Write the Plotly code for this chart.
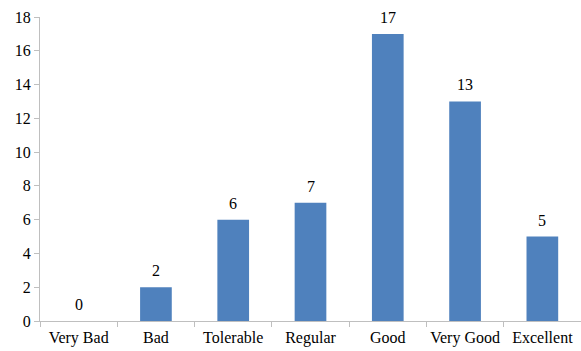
import plotly.graph_objects as go

categories = ["Very Bad", "Bad", "Tolerable", "Regular", "Good", "Very Good", "Excellent"]
values = [0, 2, 6, 7, 17, 13, 5]
y_ticks = [0, 2, 4, 6, 8, 10, 12, 14, 16, 18]

FONT = "Liberation Serif"

fig = go.Figure(go.Bar(
    x=categories, y=values,
    marker=dict(color="#4F81BD", line=dict(width=0)),
    cliponaxis=False,
))

for c, v in zip(categories, values):
    fig.add_annotation(
        x=c, y=v, text=str(v), showarrow=False,
        yanchor="bottom", yshift=6,
        font=dict(family=FONT, size=16, color="black"),
    )

fig.update_layout(
    width=581, height=351,
    margin=dict(l=40, r=0, t=17, b=30, autoexpand=False),
    plot_bgcolor="white", paper_bgcolor="white",
    bargap=0.59,
    showlegend=False,
    font=dict(family=FONT, size=16, color="black"),
)
fig.update_xaxes(
    showline=True, linecolor="#BFBFBF", linewidth=1,
    ticks="outside", tickson="boundaries", ticklen=5, tickcolor="#BFBFBF",
    showgrid=False, tickfont=dict(family=FONT, size=16, color="black"), tickangle=0,
    ticklabelstandoff=2,
    automargin=False,
)
fig.update_yaxes(
    range=[0, 18], tickvals=y_ticks,
    showline=True, linecolor="#BFBFBF", linewidth=1,
    ticks="outside", ticklen=5, tickcolor="#BFBFBF",
    showgrid=False, zeroline=False, tickfont=dict(family=FONT, size=16, color="black"),
    automargin=False,
)

fig.write_html("out.html")
